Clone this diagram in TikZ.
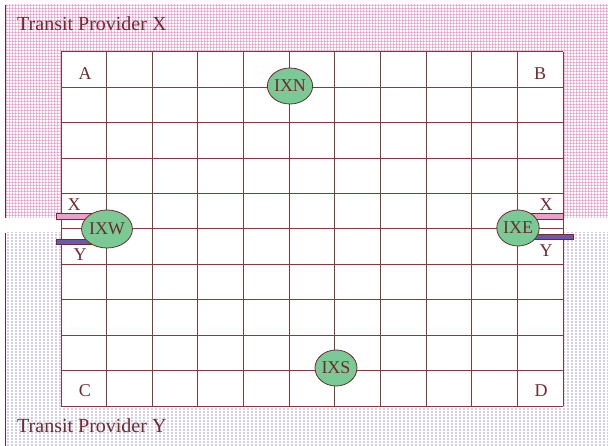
\documentclass[tikz,border=0pt]{standalone}
\usepackage{fontspec}
\setmainfont{Liberation Serif}
\usetikzlibrary{patterns,shapes.geometric}

\definecolor{ink}{RGB}{112,42,48}
\definecolor{gridline}{RGB}{125,60,62}
\definecolor{hatchpink}{RGB}{228,140,196}
\definecolor{dotlilac}{RGB}{150,140,195}
\definecolor{ixgreen}{RGB}{122,202,150}
\definecolor{linkpink}{RGB}{232,160,205}
\definecolor{linkpurple}{RGB}{105,90,170}

% trame delle regioni
\pgfdeclarepatternformonly{pinkgrid}{\pgfpointorigin}{\pgfpoint{3.2pt}{3.2pt}}{\pgfpoint{3.2pt}{3.2pt}}{%
  \pgfsetlinewidth{0.9pt}
  \pgfpathmoveto{\pgfpoint{0.45pt}{0pt}}\pgfpathlineto{\pgfpoint{0.45pt}{3.2pt}}
  \pgfpathmoveto{\pgfpoint{0pt}{0.45pt}}\pgfpathlineto{\pgfpoint{3.2pt}{0.45pt}}
  \pgfusepath{stroke}}
\pgfdeclarepatternformonly{lilacdots}{\pgfpointorigin}{\pgfpoint{3.6pt}{2.8pt}}{\pgfpoint{3.6pt}{2.8pt}}{%
  \pgfpathrectangle{\pgfpoint{0.5pt}{0.5pt}}{\pgfpoint{1.2pt}{1.2pt}}
  \pgfusepath{fill}}

\tikzset{
  corner/.style={text=ink, font=\fontsize{18}{20}\selectfont, inner sep=0pt},
  provider/.style={text=ink, font=\fontsize{20}{22}\selectfont, inner sep=0pt, anchor=base west},
  ixp/.style={ellipse, draw=ink, fill=ixgreen, line width=0.8pt, minimum width=42pt, minimum height=36pt,
    inner sep=0pt, text=ink, font=\fontsize{18}{20}\selectfont},
  linkbar/.style={draw=ink, line width=0.7pt},
}

\begin{document}
\begin{tikzpicture}[x=1pt, y=-1pt]
        \useasboundingbox (0,0) rectangle (608,446);

        % Regioni dei provider
        \fill[white] (0,0) rectangle (608,446);
        \fill[pattern=pinkgrid, pattern color=hatchpink] (5,5) rectangle (608,218);
        \fill[pattern=lilacdots, pattern color=dotlilac] (5,233) rectangle (608,446);
        \draw[ink, line width=0.9pt] (5,5) -- (5,218);
        \draw[ink, line width=0.9pt] (5,233) -- (5,446);
        \node[provider] (provX) at (17,31) {Transit Provider X};
        \node[provider] (provY) at (17,432) {Transit Provider Y};

        % Griglia
        \fill[white] (61,52) rectangle (563,406);
        \foreach \i in {0,...,11}
          \draw[gridline, line width=1pt] ({61+\i*45.64},52) -- ({61+\i*45.64},406);
        \foreach \j in {0,...,10}
          \draw[gridline, line width=1pt] (61,{52+\j*35.4}) -- (563,{52+\j*35.4});

        % Angoli
        \node[corner] (A) at (85,74) {A};
        \node[corner] (B) at (540,74) {B};
        \node[corner] (C) at (85,391) {C};
        \node[corner] (D) at (541,391) {D};

        % Collegamenti verso i provider
        \coordinate (wX) at (56,213);
        \coordinate (wY) at (56,239);
        \coordinate (eX) at (563,213);
        \coordinate (eY) at (573,234);
        \filldraw[linkbar, fill=linkpink] (wX) rectangle (92,219);
        \filldraw[linkbar, fill=linkpurple] (wY) rectangle (107,244);
        \filldraw[linkbar, fill=linkpink] (eX) rectangle (528,219);
        \filldraw[linkbar, fill=linkpurple] (eY) rectangle (532,239);
        \node[corner] (labWX) at (74,205) {X};
        \node[corner] (labWY) at (80,255) {Y};
        \node[corner] (labEX) at (546,205) {X};
        \node[corner] (labEY) at (546,251) {Y};

        % Punti di interscambio
        \node[ixp] (IXN) at (290,86) {IXN};
        \node[ixp] (IXS) at (336,368) {IXS};
        \node[ixp, minimum width=40pt, minimum height=38pt] (IXW) at (107,229) {IXW};
        \node[ixp, minimum width=40pt] (IXE) at (518,228) {IXE};

\end{tikzpicture}
\end{document}
